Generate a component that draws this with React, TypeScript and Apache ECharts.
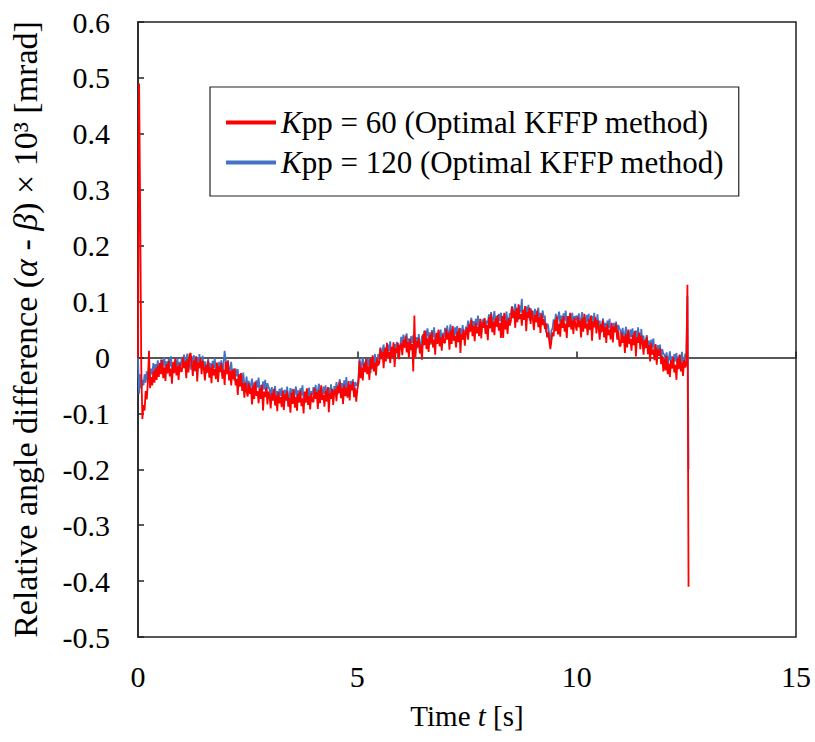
import React, { useEffect, useRef } from "react";
import * as echarts from "echarts";

// sampling step of the recorded signal [s]
const STEP = 0.025;

// Kpp = 60 (Optimal KFFP method), t = 0.000 ... 12.500 s (every 0.025 s)
const redValues = [
  // 0.0 - 0.475
  0, 0.49, 0.26, -0.02, -0.11, -0.085, -0.095, -0.06, -0.075, -0.045, 0.012, -0.055, -0.035, -0.05, -0.025, -0.045, -0.02, -0.04, -0.015, -0.035,
  // 0.5 - 0.975
  -0.010, -0.030, -0.004, -0.037, -0.018, -0.042, -0.012, -0.027, -0.006, -0.034, -0.020, -0.047, -0.008, -0.028, -0.002, -0.032, -0.016, -0.040, -0.011, -0.025,
  // 1.0 - 1.475
  -0.025, 0.000, -0.019, -0.007, -0.037, -0.003, -0.027, 0.005, 0.008, -0.012, -0.033, -0.005, -0.023, 0.002, -0.043, -0.009, -0.019, -0.001, -0.030, -0.006,
  // 1.5 - 1.975
  -0.020, -0.041, -0.014, -0.027, -0.006, -0.036, -0.018, -0.046, -0.012, -0.032, -0.021, -0.039, -0.009, -0.044, -0.016, -0.026, -0.010, -0.038, -0.022, -0.049,
  // 2.0 - 2.475
  -0.008, -0.030, -0.006, -0.041, -0.024, -0.050, -0.022, -0.039, -0.020, -0.050, -0.038, -0.067, -0.030, -0.052, -0.028, -0.060, -0.046, -0.072, -0.045, -0.061,
  // 2.5 - 2.975
  -0.070, -0.046, -0.065, -0.054, -0.084, -0.050, -0.074, -0.043, -0.069, -0.060, -0.082, -0.055, -0.074, -0.049, -0.095, -0.061, -0.071, -0.054, -0.084, -0.061,
  // 3.0 - 3.475
  -0.070, -0.091, -0.064, -0.077, -0.056, -0.086, -0.068, -0.096, -0.062, -0.082, -0.071, -0.089, -0.059, -0.094, -0.066, -0.076, -0.060, -0.088, -0.072, -0.099,
  // 3.5 - 3.975
  -0.063, -0.083, -0.057, -0.090, -0.071, -0.095, -0.065, -0.080, -0.059, -0.087, -0.073, -0.100, -0.061, -0.081, -0.055, -0.085, -0.069, -0.093, -0.064, -0.078,
  // 4.0 - 4.475
  -0.080, -0.055, -0.074, -0.062, -0.092, -0.058, -0.082, -0.050, -0.076, -0.067, -0.088, -0.060, -0.078, -0.053, -0.098, -0.064, -0.074, -0.056, -0.085, -0.061,
  // 4.5 - 4.975
  -0.057, -0.078, -0.051, -0.064, -0.043, -0.073, -0.055, -0.083, -0.049, -0.069, -0.054, -0.072, -0.042, -0.077, -0.049, -0.059, -0.043, -0.071, -0.055, -0.079,
  // 5.0 - 5.475
  -0.058, -0.045, -0.006, -0.037, -0.018, -0.041, -0.011, -0.026, -0.003, -0.030, -0.016, -0.040, -0.002, -0.021, 0.004, -0.025, -0.009, -0.032, -0.002, -0.014,
  // 5.5 - 5.975
  -0.010, 0.016, -0.003, 0.010, -0.019, 0.016, -0.007, 0.026, 0.000, 0.010, -0.010, 0.019, 0.001, 0.027, -0.017, 0.017, 0.008, 0.026, -0.003, 0.021,
  // 6.0 - 6.475
  0.025, 0.004, 0.031, 0.018, 0.039, 0.009, 0.027, -0.001, 0.033, 0.013, 0.024, -0.025, 0.075, 0.001, 0.029, 0.019, 0.035, 0.007, 0.023, -0.004,
  // 6.5 - 6.975
  0.042, 0.022, 0.048, 0.015, 0.034, 0.010, 0.040, 0.025, 0.046, 0.018, 0.032, 0.005, 0.044, 0.024, 0.050, 0.020, 0.036, 0.012, 0.041, 0.027,
  // 7.0 - 7.475
  0.026, 0.051, 0.032, 0.044, 0.014, 0.048, 0.024, 0.056, 0.030, 0.039, 0.018, 0.046, 0.028, 0.053, 0.008, 0.042, 0.032, 0.050, 0.021, 0.045,
  // 7.5 - 7.975
  0.053, 0.032, 0.059, 0.046, 0.067, 0.038, 0.056, 0.029, 0.062, 0.043, 0.055, 0.038, 0.069, 0.034, 0.063, 0.053, 0.070, 0.042, 0.058, 0.031,
  // 8.0 - 8.475
  0.072, 0.052, 0.078, 0.045, 0.064, 0.040, 0.070, 0.055, 0.076, 0.048, 0.062, 0.035, 0.074, 0.035, 0.080, 0.050, 0.066, 0.042, 0.071, 0.057,
  // 8.5 - 8.975
  0.065, 0.090, 0.071, 0.083, 0.053, 0.087, 0.063, 0.095, 0.069, 0.078, 0.057, 0.085, 0.067, 0.092, 0.047, 0.081, 0.071, 0.089, 0.060, 0.084,
  // 9.0 - 9.475
  0.070, 0.049, 0.076, 0.063, 0.084, 0.054, 0.072, 0.044, 0.078, 0.058, 0.069, 0.051, 0.061, 0.036, 0.045, 0.030, 0.015, 0.030, 0.045, 0.038,
  // 9.5 - 9.975
  0.067, 0.047, 0.073, 0.041, 0.060, 0.037, 0.068, 0.053, 0.074, 0.046, 0.060, 0.035, 0.074, 0.054, 0.080, 0.050, 0.066, 0.042, 0.071, 0.057,
  // 10.0 - 10.475
  0.048, 0.073, 0.054, 0.066, 0.036, 0.070, 0.046, 0.078, 0.052, 0.061, 0.040, 0.068, 0.050, 0.075, 0.030, 0.064, 0.054, 0.072, 0.043, 0.067,
  // 10.5 - 10.975
  0.053, 0.032, 0.059, 0.046, 0.066, 0.036, 0.054, 0.026, 0.060, 0.040, 0.050, 0.032, 0.062, 0.027, 0.055, 0.045, 0.060, 0.032, 0.048, 0.021,
  // 11.0 - 11.475
  0.020, 0.045, 0.026, 0.038, 0.008, 0.042, 0.018, 0.050, 0.024, 0.033, 0.012, 0.040, 0.022, 0.047, 0.002, 0.036, 0.026, 0.044, 0.015, 0.039,
  // 11.5 - 11.975
  0.027, 0.005, 0.031, 0.017, 0.037, 0.006, 0.022, -0.007, 0.026, 0.005, 0.014, -0.005, 0.024, -0.013, 0.014, 0.003, 0.017, -0.012, 0.003, -0.025,
  // 12.0 - 12.475
  -0.003, -0.023, 0.003, -0.030, -0.011, -0.035, -0.005, -0.020, 0.001, -0.027, -0.013, -0.040, -0.001, -0.021, 0.005, -0.025, -0.009, -0.033, -0.004, -0.018,
  // 12.5
  -0.012,
];
const redTailTimes = [12.525, 12.55];
const redTailValues = [0.13, -0.41];

// Kpp = 120 (Optimal KFFP method), t = 0.000 ... 12.500 s (every 0.025 s)
const blueValues = [
  // 0.0 - 0.475
  0, -0.065, -0.03, -0.055, -0.04, -0.05, -0.03, -0.045, -0.025, -0.04, -0.015, -0.035, -0.02, -0.03, -0.01, -0.028, -0.012, -0.025, -0.005, -0.02,
  // 0.5 - 0.975
  -0.020, -0.004, -0.026, -0.010, 0.000, -0.022, -0.007, -0.029, -0.003, -0.016, 0.002, -0.024, -0.011, -0.027, -0.005, -0.019, -0.002, -0.030, -0.008, -0.015,
  // 1.0 - 1.475
  0.001, -0.012, 0.005, -0.019, -0.006, 0.007, -0.017, -0.002, -0.022, 0.002, -0.011, 0.004, -0.025, -0.003, 0.000, -0.020, 0.006, -0.014, -0.018, 0.003,
  // 1.5 - 1.975
  -0.023, -0.007, -0.029, -0.013, -0.003, -0.025, -0.010, -0.032, -0.006, -0.019, -0.001, -0.027, -0.014, -0.030, -0.008, -0.022, -0.005, -0.033, -0.011, 0.012,
  // 2.0 - 2.475
  -0.006, -0.021, -0.005, -0.031, -0.020, -0.008, -0.034, -0.020, -0.042, -0.020, -0.034, -0.021, -0.052, -0.031, -0.030, -0.052, -0.027, -0.049, -0.054, -0.034,
  // 2.5 - 2.975
  -0.058, -0.042, -0.064, -0.048, -0.038, -0.060, -0.045, -0.067, -0.041, -0.054, -0.036, -0.062, -0.049, -0.065, -0.043, -0.057, -0.040, -0.068, -0.046, -0.053,
  // 3.0 - 3.475
  -0.057, -0.070, -0.053, -0.077, -0.064, -0.051, -0.075, -0.060, -0.080, -0.056, -0.069, -0.054, -0.083, -0.061, -0.058, -0.078, -0.052, -0.072, -0.076, -0.055,
  // 3.5 - 3.975
  -0.072, -0.056, -0.078, -0.062, -0.052, -0.074, -0.059, -0.081, -0.055, -0.068, -0.050, -0.076, -0.063, -0.079, -0.057, -0.071, -0.054, -0.082, -0.060, -0.067,
  // 4.0 - 4.475
  -0.053, -0.066, -0.049, -0.073, -0.060, -0.047, -0.071, -0.056, -0.076, -0.052, -0.065, -0.050, -0.079, -0.057, -0.054, -0.074, -0.048, -0.068, -0.072, -0.051,
  // 4.5 - 4.975
  -0.060, -0.044, -0.066, -0.050, -0.039, -0.061, -0.046, -0.068, -0.041, -0.054, -0.035, -0.061, -0.048, -0.064, -0.042, -0.056, -0.039, -0.066, -0.044, -0.050,
  // 5.0 - 5.475
  -0.048, -0.040, -0.002, -0.026, -0.013, 0.000, -0.024, -0.008, -0.027, -0.003, -0.015, -0.001, -0.028, -0.006, -0.002, -0.020, 0.006, -0.013, -0.016, 0.006,
  // 5.5 - 5.975
  0.002, 0.018, -0.003, 0.013, 0.023, 0.002, 0.018, -0.003, 0.023, 0.011, 0.029, 0.004, 0.017, 0.002, 0.024, 0.010, 0.028, 0.000, 0.022, 0.015,
  // 6.0 - 6.475
  0.037, 0.024, 0.041, 0.017, 0.030, 0.043, 0.019, 0.034, 0.014, 0.038, 0.025, 0.040, 0.011, 0.033, 0.036, 0.016, 0.042, 0.022, 0.018, 0.039,
  // 6.5 - 6.975
  0.032, 0.048, 0.026, 0.042, 0.052, 0.030, 0.045, 0.023, 0.049, 0.036, 0.054, 0.028, 0.041, 0.025, 0.047, 0.033, 0.050, 0.022, 0.044, 0.037,
  // 7.0 - 7.475
  0.053, 0.040, 0.057, 0.033, 0.046, 0.059, 0.035, 0.050, 0.030, 0.054, 0.041, 0.056, 0.027, 0.049, 0.052, 0.032, 0.058, 0.038, 0.034, 0.055,
  // 7.5 - 7.975
  0.050, 0.066, 0.045, 0.061, 0.071, 0.050, 0.065, 0.043, 0.069, 0.057, 0.075, 0.049, 0.062, 0.046, 0.068, 0.054, 0.071, 0.043, 0.066, 0.061,
  // 8.0 - 8.475
  0.077, 0.064, 0.081, 0.057, 0.070, 0.083, 0.059, 0.074, 0.054, 0.078, 0.065, 0.080, 0.051, 0.073, 0.076, 0.056, 0.082, 0.062, 0.058, 0.079,
  // 8.5 - 8.975
  0.076, 0.092, 0.070, 0.086, 0.096, 0.074, 0.089, 0.067, 0.093, 0.080, 0.105, 0.072, 0.085, 0.069, 0.091, 0.077, 0.094, 0.066, 0.088, 0.081,
  // 9.0 - 9.475
  0.083, 0.070, 0.087, 0.063, 0.076, 0.089, 0.065, 0.080, 0.060, 0.084, 0.071, 0.075, 0.045, 0.060, 0.058, 0.040, 0.025, 0.048, 0.052, 0.068,
  // 9.5 - 9.975
  0.062, 0.078, 0.056, 0.072, 0.082, 0.060, 0.075, 0.053, 0.079, 0.066, 0.084, 0.058, 0.071, 0.055, 0.077, 0.063, 0.080, 0.052, 0.074, 0.067,
  // 10.0 - 10.475
  0.075, 0.062, 0.079, 0.055, 0.068, 0.081, 0.057, 0.072, 0.052, 0.076, 0.063, 0.078, 0.049, 0.071, 0.074, 0.054, 0.080, 0.060, 0.056, 0.077,
  // 10.5 - 10.975
  0.050, 0.066, 0.044, 0.060, 0.070, 0.048, 0.062, 0.040, 0.066, 0.053, 0.069, 0.043, 0.056, 0.040, 0.062, 0.048, 0.064, 0.036, 0.058, 0.051,
  // 11.0 - 11.475
  0.049, 0.036, 0.053, 0.029, 0.042, 0.055, 0.031, 0.046, 0.026, 0.050, 0.037, 0.052, 0.023, 0.045, 0.048, 0.028, 0.054, 0.034, 0.030, 0.051,
  // 11.5 - 11.975
  0.024, 0.039, 0.016, 0.031, 0.040, 0.016, 0.030, 0.007, 0.032, 0.018, 0.034, 0.007, 0.019, 0.002, 0.022, 0.007, 0.023, -0.006, 0.015, 0.007,
  // 12.0 - 12.475
  0.005, -0.008, 0.009, -0.015, -0.002, 0.011, -0.013, 0.002, -0.018, 0.006, -0.007, 0.008, -0.021, 0.001, 0.004, -0.016, 0.010, -0.010, -0.014, 0.007,
  // 12.5
  -0.002,
];
const blueTailTimes = [12.525, 12.55];
const blueTailValues = [0.11, -0.2];

const seriesNames = ["Kpp = 60 (Optimal KFFP method)", "Kpp = 120 (Optimal KFFP method)"];
const legendLabels: Record<string, string> = {
  [seriesNames[0]]: "{i|K}{n|pp = 60 (Optimal KFFP method)}",
  [seriesNames[1]]: "{i|K}{n|pp = 120 (Optimal KFFP method)}",
};

const X_MIN = 0;
const X_MAX = 15;
const X_INTERVAL = 5;
const Y_MIN = -0.5;
const Y_MAX = 0.6;
const Y_INTERVAL = 0.1;

function toPoints(values: number[], tailT: number[], tailV: number[]) {
  const pts: number[][] = values.map((v, i) => [Math.round(i * STEP * 1000) / 1000, v]);
  tailT.forEach((t, i) => pts.push([t, tailV[i]]));
  return pts;
}

const FONT = "Liberation Serif";

function richSet(size: number) {
  return {
    n: { fontFamily: FONT, fontSize: size, color: "#000" },
    i: { fontFamily: FONT, fontSize: size, color: "#000", fontStyle: "italic" },
  };
}

export default function App() {
  const ref = useRef<HTMLDivElement>(null);
  useEffect(() => {
    if (!ref.current) return;
    const chart = echarts.init(ref.current, undefined, { renderer: "svg" });
    chart.setOption({
      animation: false,
      backgroundColor: "#fff",
      grid: {
        left: 138,
        top: 22,
        right: 19,
        bottom: 105,
        show: true,
        borderColor: "#222",
        borderWidth: 1.5,
        backgroundColor: "transparent",
      },
      legend: {
        left: 210,
        top: 87,
        orient: "vertical",
        data: seriesNames,
        icon: "rect",
        itemWidth: 50,
        itemHeight: 4,
        itemGap: 9,
        padding: [20, 14, 18, 16],
        borderColor: "#222",
        borderWidth: 1.2,
        backgroundColor: "#fff",
        formatter: (name: string) => legendLabels[name] || name,
        textStyle: { fontFamily: FONT, fontSize: 31, color: "#000", rich: richSet(31) },
      },
      xAxis: [
        {
          type: "value",
          min: X_MIN,
          max: X_MAX,
          interval: X_INTERVAL,
          position: "bottom",
          axisLine: { show: false, onZero: false },
          axisTick: { show: false },
          splitLine: { show: false },
          axisLabel: { fontFamily: FONT, fontSize: 30, color: "#000", margin: 24 },
          name: "{n|Time }{i|t}{n| [s]}",
          nameLocation: "middle",
          nameGap: 64,
          nameTextStyle: { rich: richSet(29) },
        },
        {
          type: "value",
          min: X_MIN,
          max: X_MAX,
          interval: X_INTERVAL,
          position: "bottom",
          axisLine: { show: true, onZero: true, lineStyle: { color: "#222", width: 1.5 } },
          axisTick: { show: true, inside: true, length: 6, lineStyle: { color: "#222", width: 1.5 } },
          axisLabel: { show: false },
          splitLine: { show: false },
        },
      ],
      yAxis: {
        type: "value",
        min: Y_MIN,
        max: Y_MAX,
        interval: Y_INTERVAL,
        axisLine: { show: true, onZero: false, lineStyle: { color: "#222", width: 1.5 } },
        axisTick: { show: true, inside: true, length: 6, lineStyle: { color: "#222", width: 1.5 } },
        splitLine: { show: false },
        axisLabel: {
          fontFamily: FONT,
          fontSize: 30,
          color: "#000",
          margin: 28,
          formatter: (v: number) => {
            const r = Math.round(v * 10) / 10;
            return r === 0 ? "0" : r.toFixed(1);
          },
        },
        name: "{n|Relative angle difference (}{i|α}{n| - }{i|β}{n|) × 10³ [mrad]}",
        nameLocation: "middle",
        nameGap: 96,
        nameTextStyle: { rich: richSet(34) },
      },
      series: [
        {
          name: seriesNames[1],
          type: "line",
          xAxisIndex: 0,
          data: toPoints(blueValues, blueTailTimes, blueTailValues),
          symbol: "none",
          lineStyle: { color: "#4472C4", width: 1.8 },
          itemStyle: { color: "#4472C4" },
          z: 2,
        },
        {
          name: seriesNames[0],
          type: "line",
          xAxisIndex: 0,
          data: toPoints(redValues, redTailTimes, redTailValues),
          symbol: "none",
          lineStyle: { color: "#FF0000", width: 1.8 },
          itemStyle: { color: "#FF0000" },
          z: 3,
        },
      ],
    });
    return () => chart.dispose();
  }, []);
  return (
    <div
      ref={ref}
      style={{ position: "absolute", left: 0, top: 0, width: 815, height: 742, overflow: "visible" }}
    />
  );
}
